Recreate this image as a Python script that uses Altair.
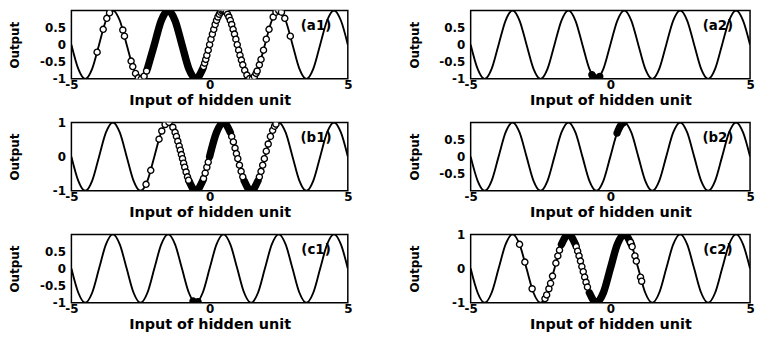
import altair as alt
import pandas as pd

# Activation curve of the hidden unit, read at quarter-unit steps
curve_x = [-5.0, -4.75, -4.5, -4.25, -4.0, -3.75, -3.5, -3.25, -3.0, -2.75,
           -2.5, -2.25, -2.0, -1.75, -1.5, -1.25, -1.0, -0.75, -0.5, -0.25,
           0.0, 0.25, 0.5, 0.75, 1.0, 1.25, 1.5, 1.75, 2.0, 2.25,
           2.5, 2.75, 3.0, 3.25, 3.5, 3.75, 4.0, 4.25, 4.5, 4.75, 5.0]
curve_y = [0, -0.707, -1, -0.707, 0, 0.707, 1, 0.707,
           0, -0.707, -1, -0.707, 0, 0.707, 1, 0.707,
           0, -0.707, -1, -0.707, 0, 0.707, 1, 0.707,
           0, -0.707, -1, -0.707, 0, 0.707, 1, 0.707,
           0, -0.707, -1, -0.707, 0, 0.707, 1, 0.707, 0]

# Samples (circles) per panel
a1_x = [-4.07, -3.85, -3.72, -3.62, -3.14, -3.08, -2.84, -2.78, -2.68, -2.58, -2.47, -2.37, -2.28,
        -0.22, -0.18, -0.14, -0.10, -0.05, 0.00, 0.05, 0.10, 0.15, 0.20, 0.25, 0.30, 0.35, 0.40,
        0.45, 0.50, 0.55, 0.60, 0.65, 0.70, 0.75, 0.80, 0.85, 0.90, 0.95, 1.00, 1.05, 1.10, 1.15,
        1.20, 1.27, 1.35, 1.45,
        1.55, 1.62, 1.68, 1.72, 1.80, 1.86, 1.95, 2.05, 2.15, 2.30, 2.40, 2.50, 2.60, 2.72, 2.92]
a1_y = [-0.22, 0.45, 0.77, 0.93, 0.43, 0.25, -0.48, -0.64, -0.84, -0.97, -1.0, -0.92, -0.77,
        -0.64, -0.54, -0.43, -0.31, -0.16, 0.0, 0.16, 0.31, 0.45, 0.59, 0.71, 0.81, 0.89, 0.95,
        0.99, 1.0, 0.99, 0.95, 0.89, 0.81, 0.71, 0.59, 0.45, 0.31, 0.16, 0.0, -0.16, -0.31, -0.45,
        -0.59, -0.75, -0.89, -0.99,
        -0.99, -0.93, -0.84, -0.77, -0.59, -0.43, -0.16, 0.16, 0.45, 0.81, 0.95, 1.0, 0.95, 0.77, 0.25]
a1_dense = [(-2.25, -0.25)]

a2_x = [-0.66, -0.62, -0.58, -0.54, -0.50, -0.46, -0.42, -0.38]
a2_y = [-0.88, -0.93, -0.97, -0.99, -1.0, -0.99, -0.97, -0.93]

b1_x = [-2.30, -2.13, -1.83, -1.73, -1.61, -1.47, -1.33, -1.25, -1.20, -1.15, -1.10, -1.06,
        -1.02, -0.98, -0.94, -0.90, -0.85, -0.80, -0.76,
        -0.22, -0.16, -0.10, -0.05,
        0.80, 0.86, 0.92, 0.97, 1.02, 1.08, 1.14, 1.20,
        1.80, 1.86, 1.92, 1.98, 2.05, 2.12, 2.20, 2.28, 2.35, 2.40]
b1_y = [-0.81, -0.40, 0.51, 0.75, 0.94, 1.0, 0.86, 0.71, 0.59, 0.45, 0.31, 0.19,
        0.06, -0.06, -0.19, -0.31, -0.45, -0.59, -0.69,
        -0.64, -0.48, -0.31, -0.16,
        0.59, 0.43, 0.25, 0.09, -0.06, -0.25, -0.43, -0.59,
        -0.59, -0.43, -0.25, -0.06, 0.16, 0.37, 0.59, 0.77, 0.89, 0.95]
b1_dense = [(-0.75, -0.25), (0.0, 0.75), (1.25, 1.75)]

b2_x = [0.24, 0.28, 0.32, 0.36, 0.40, 0.44, 0.48]
b2_y = [0.69, 0.77, 0.84, 0.90, 0.95, 0.98, 1.0]

c1_x = [-0.60, -0.57, -0.54, -0.51, -0.48, -0.45, -0.42]
c1_y = [-0.95, -0.98, -0.99, -1.0, -1.0, -0.99, -0.97]

c2_x = [-3.25, -3.06, -2.80, -2.34, -2.28, -2.20, -2.14, -2.07, -1.95, -1.88, -1.82,
        -1.22, -1.17, -1.12, -1.07, -1.02, -0.97, -0.92, -0.87, -0.82,
        0.72, 0.78, 0.88, 0.93, 1.08, 1.12]
c2_y = [0.71, 0.19, -0.59, -0.88, -0.77, -0.59, -0.43, -0.22, 0.16, 0.37, 0.54,
        0.64, 0.51, 0.37, 0.22, 0.06, -0.09, -0.25, -0.40, -0.54,
        0.77, 0.64, 0.37, 0.22, -0.25, -0.37]
c2_dense = [(-1.75, -1.25), (-0.75, 0.75)]

x_ticks = [-5, 0, 5]
y_ticks_a = [-1, -0.5, 0, 0.5]
y_ticks_b = [-1, 0, 1]
y_ticks_c = [-0.5, 0, 0.5]

FONT = "DejaVu Sans"
curve_df = pd.DataFrame({"x": curve_x, "y": curve_y})


def panel(px, py, dense, label, yticks, W, H, filled=False):
    xs = alt.X("x:Q", scale=alt.Scale(domain=[-5, 5], nice=False, zero=False),
               axis=alt.Axis(values=x_ticks, title="Input of hidden unit",
                             labelExpr="toString(datum.value)", labelFlush=False,
                             grid=False, ticks=False, domain=False,
                             labelPadding=1, titlePadding=3, titleFontSize=14.5,
                             labelFontSize=12))
    ys = alt.Y("y:Q", scale=alt.Scale(domain=[-1, 1], nice=False, zero=False),
               axis=alt.Axis(values=yticks, title="Output",
                             labelExpr="toString(datum.value)",
                             grid=False, ticks=False, domain=False,
                             labelPadding=6, titlePadding=9, titleFontSize=12,
                             labelFontSize=12, minExtent=41, maxExtent=41))
    layers = [alt.Chart(curve_df).mark_line(color="black", strokeWidth=1.9,
                                            interpolate="monotone", clip=True)
              .encode(x=xs, y=ys)]
    if dense:
        rows = []
        for i, (lo, hi) in enumerate(dense):
            for xv, yv in zip(curve_x, curve_y):
                if lo - 1e-9 <= xv <= hi + 1e-9:
                    rows.append({"x": xv, "y": yv, "seg": i})
        layers.append(alt.Chart(pd.DataFrame(rows))
                      .mark_line(color="black", strokeWidth=7.5, strokeCap="round",
                                 interpolate="monotone", clip=True)
                      .encode(x=xs, y=ys, detail="seg:N"))
    pts = pd.DataFrame({"x": px, "y": py})
    layers.append(alt.Chart(pts).mark_point(shape="circle", filled=True,
                                            fill="black" if filled else "white",
                                            stroke="black", strokeWidth=1.4,
                                            size=38, opacity=1, clip=True)
                  .encode(x=xs, y=ys))
    layers.append(alt.Chart(pd.DataFrame({"t": [label]}))
                  .mark_text(font=FONT, fontWeight="bold", fontSize=13.5, color="black")
                  .encode(x=alt.value(W * 0.885), y=alt.value(H * 0.225), text="t:N"))
    return alt.layer(*layers).properties(width=W, height=H)


WL, WR, H = 279, 282, 69
a1 = panel(a1_x, a1_y, a1_dense, "(a1)", y_ticks_a, WL, H)
a2 = panel(a2_x, a2_y, None, "(a2)", y_ticks_a, WR, H, filled=True)
b1 = panel(b1_x, b1_y, b1_dense, "(b1)", y_ticks_b, WL, H)
b2 = panel(b2_x, b2_y, None, "(b2)", y_ticks_c, WR, H, filled=True)
c1 = panel(c1_x, c1_y, None, "(c1)", y_ticks_a, WL, H, filled=True)
c2 = panel(c2_x, c2_y, c2_dense, "(c2)", y_ticks_b, WR, H)

chart = (alt.concat(a1, a2, b1, b2, c1, c2, columns=2,
                    spacing={"row": 7, "column": 55})
         .properties(padding=0, background="white")
         .configure_view(stroke="black", strokeWidth=1.5)
         .configure_axis(labelFont=FONT, labelFontWeight="bold", labelColor="black",
                         titleFont=FONT, titleFontWeight="bold", titleColor="black"))

chart.save("out.html", embed_options={"renderer": "svg", "actions": False})
